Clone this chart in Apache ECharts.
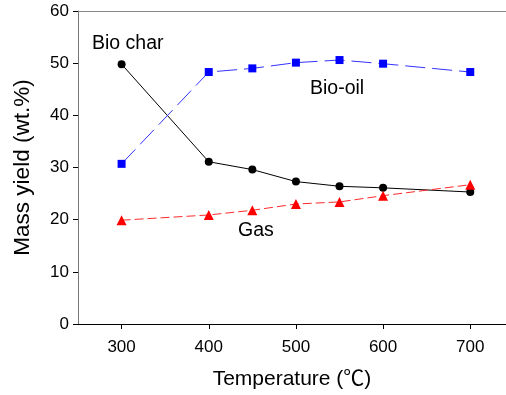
<!DOCTYPE html>
<html>
<head>
<meta charset="utf-8">
<script src="https://cdn.jsdelivr.net/npm/echarts@6/dist/echarts.min.js"></script>
<style>
    html, body { margin: 0; padding: 0; background: #fff; }
    #chart { width: 506px; height: 395px; }
</style>
</head>
<body>
<div id="chart"></div>
<script>
// temperatures (℃)
var temps = [300, 400, 450, 500, 550, 600, 700];
var xTicks = [300, 400, 500, 600, 700];
// mass yield (wt.%)
var bioChar = [49.8, 31.1, 29.6, 27.3, 26.4, 26.1, 25.3];
var bioOil = [30.7, 48.3, 49.0, 50.1, 50.6, 49.9, 48.3];
var gas = [19.9, 20.9, 21.8, 23.0, 23.4, 24.6, 26.7];

function pairs(ys) {
    return temps.map(function (t, i) { return [t, ys[i]]; });
}

var font = 'Liberation Sans, Arial, sans-serif';

var myChart = echarts.init(document.getElementById('chart'));
var option = {
    backgroundColor: '#fff',
    animation: false,
    grid: {
        left: 78,
        top: 11,
        right: 0,
        bottom: 71
    },
    xAxis: [{
        type: 'value',
        min: 250,
        max: 741,
        name: 'Temperature (℃)',
        nameLocation: 'middle',
        nameGap: 45,
        nameTextStyle: { fontFamily: '"Liberation Sans", "Noto Sans CJK SC", sans-serif', fontSize: 21, color: '#000' },
        splitLine: { show: false },
        axisLine: { lineStyle: { color: '#000', width: 1 } },
        axisTick: { customValues: xTicks, length: 5, lineStyle: { color: '#000' } },
        axisLabel: { customValues: xTicks, margin: 15, fontFamily: font, fontSize: 17, color: '#000' }
    }, {
        // top frame line only
        type: 'value',
        position: 'top',
        min: 250,
        max: 741,
        splitLine: { show: false },
        axisLine: { lineStyle: { color: '#888', width: 1 } },
        axisTick: { show: false },
        axisLabel: { show: false }
    }],
    yAxis: {
        type: 'value',
        min: 0,
        max: 60,
        interval: 10,
        name: 'Mass yield (wt.%)',
        nameLocation: 'middle',
        nameGap: 44,
        nameTextStyle: { fontFamily: font, fontSize: 22.5, color: '#000' },
        splitLine: { show: false },
        axisLine: { show: true, lineStyle: { color: '#777', width: 1 } },
        axisTick: { show: true, length: 5, lineStyle: { color: '#000' } },
        axisLabel: { margin: 9, fontFamily: font, fontSize: 17, color: '#000' }
    },
    graphic: {
        elements: [
            { type: 'text', left: 92, top: 34, style: { text: 'Bio char', font: '19.5px ' + font, fill: '#000' } },
            { type: 'text', left: 310, top: 79, style: { text: 'Bio-oil', font: '19.5px ' + font, fill: '#000' } },
            { type: 'text', left: 238, top: 221, style: { text: 'Gas', font: '19.5px ' + font, fill: '#000' } }
        ]
    },
    series: [
        {
            name: 'Bio char',
            type: 'line',
            data: pairs(bioChar),
            symbol: 'circle',
            symbolSize: 8,
            itemStyle: { color: '#000' },
            lineStyle: { color: '#000', width: 1 }
        },
        {
            name: 'Bio-oil',
            type: 'line',
            data: pairs(bioOil),
            symbol: 'rect',
            symbolSize: 8,
            itemStyle: { color: '#0000ff' },
            lineStyle: { color: '#3333ff', width: 1, type: [20, 7] }
        },
        {
            name: 'Gas',
            type: 'line',
            data: pairs(gas),
            symbol: 'triangle',
            symbolSize: 10,
            itemStyle: { color: '#ff0000' },
            lineStyle: { color: '#ff2a2a', width: 1, type: [9, 4] }
        }
    ]
};
myChart.setOption(option);
</script>
</body>
</html>
